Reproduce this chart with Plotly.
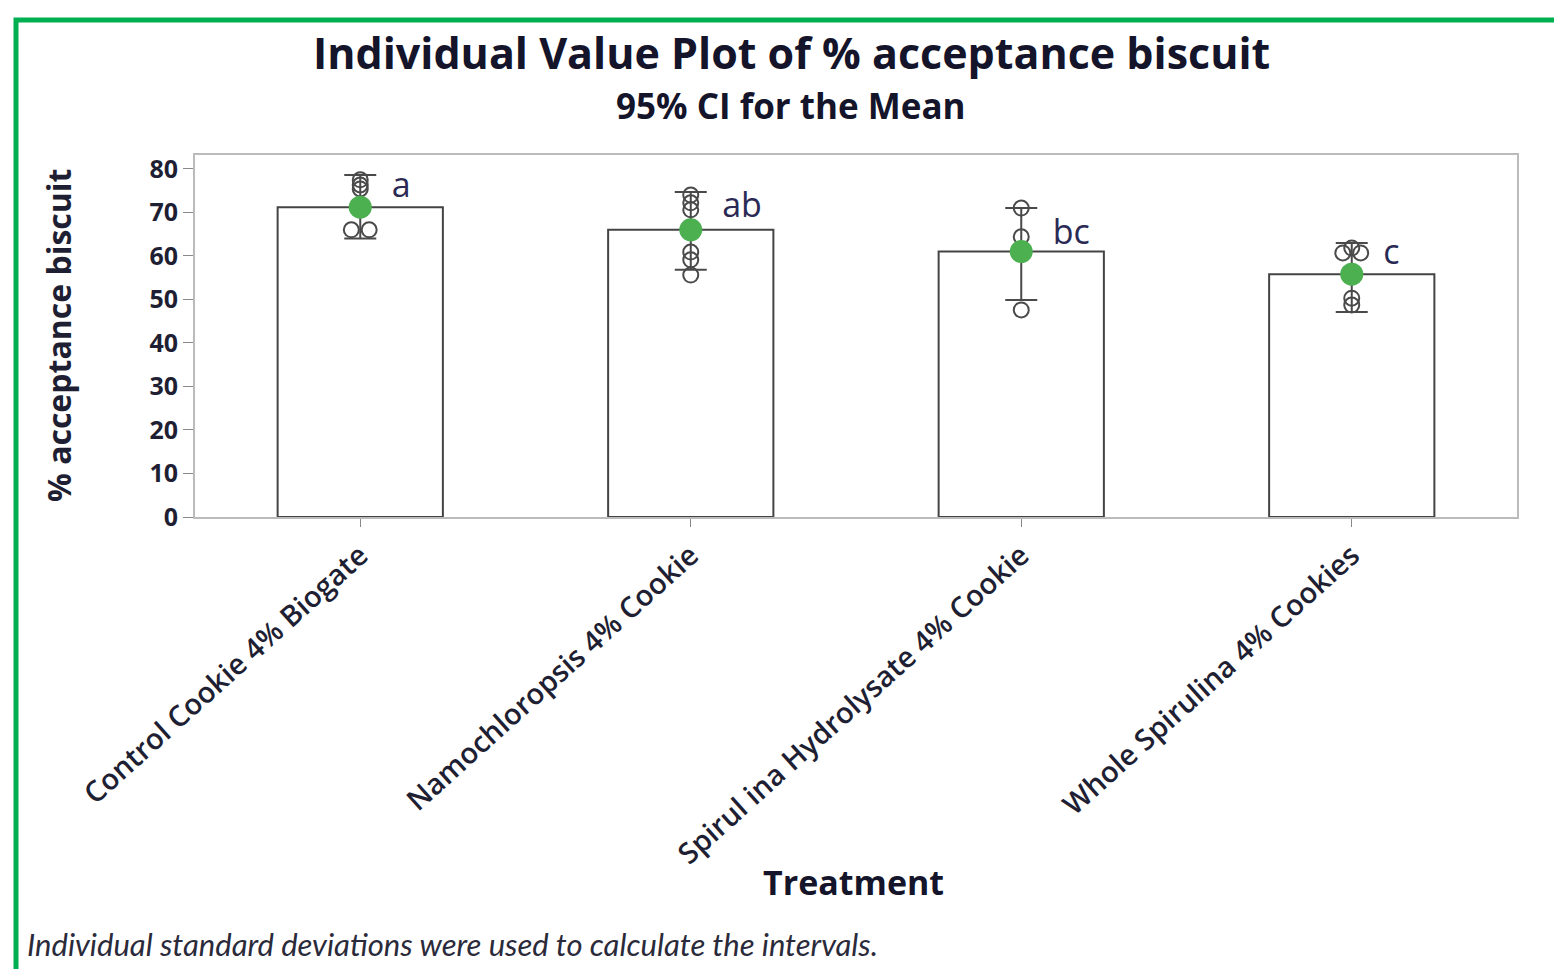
import plotly.graph_objects as go

# ---------------- data ----------------
treatments = ["Control Cookie 4% Biogate", "Nannochloropsis 4% Cookie",
              "Spirulina Hydrolysate 4% Cookie", "Whole Spirulina 4% Cookies"]
tick_labels = ["Control Cookie 4% Biogate", "Namochloropsis 4% Cookie",
               "Spirul ina Hydrolysate 4% Cookie", "Whole Spirulina 4% Cookies"]
means = [71.2, 66.0, 61.0, 55.8]
ci_low = [64.0, 56.8, 49.9, 47.1]
ci_high = [78.6, 74.7, 71.0, 63.0]
group_letters = ["a", "ab", "bc", "c"]
letter_y = [75.6, 70.8, 64.6, 60.0]
values_control = [77.5, 76.3, 75.4, 66.0, 66.0]
values_nanno = [74.0, 72.2, 70.6, 60.9, 59.1, 55.6]
values_hydro = [71.0, 64.4, 47.6]
values_whole = [61.8, 60.7, 60.7, 50.3, 48.7]
individual = [values_control, values_nanno, values_hydro, values_whole]
y_ticks = [0, 10, 20, 30, 40, 50, 60, 70, 80]

# ---------------- layout constants ----------------
OFF = 8  # page body margin
L, R, T, B = 195 - OFF, 45, 155 - OFF, 452
pw, ph = 1322, 362
W, H = L + pw + R, T + ph + B


def px_x(p):
    return (p - OFF - L) / pw


def px_y(p):
    return (T + ph - (p - OFF)) / ph


txt = "#1f1f33"

fig = go.Figure()
xs = list(range(len(treatments)))

# bars
fig.add_trace(go.Bar(x=xs, y=means, width=0.5,
                     marker=dict(color="white", line=dict(color="#444444", width=2)),
                     hoverinfo="skip", showlegend=False))

# CI error bars
fig.add_trace(go.Scatter(
    x=xs, y=means, mode="markers", marker=dict(size=1, color="rgba(0,0,0,0)"),
    error_y=dict(type="data", symmetric=False,
                 array=[h - m for h, m in zip(ci_high, means)],
                 arrayminus=[m - l for m, l in zip(means, ci_low)],
                 color="#4a4a4a", thickness=2, width=16),
    showlegend=False, hoverinfo="skip"))

# individual values (tied values spread side by side)
px_, py_ = [], []
for i, vals in enumerate(individual):
    counts = {}
    for v in vals:
        counts[v] = counts.get(v, 0) + 1
    seen = {}
    for v in vals:
        n = counts[v]
        k = seen.get(v, 0)
        seen[v] = k + 1
        off = (k - (n - 1) / 2) * 0.054
        px_.append(i + off)
        py_.append(v)
fig.add_trace(go.Scatter(x=px_, y=py_, mode="markers",
                         marker=dict(symbol="circle-open", size=15, color="#4a4a4a", line=dict(width=2)),
                         showlegend=False, hoverinfo="skip"))

# mean markers
fig.add_trace(go.Scatter(x=xs, y=means, mode="markers",
                         marker=dict(symbol="circle", size=23, color="#4caf50"),
                         showlegend=False))

# group letters
fig.add_trace(go.Scatter(x=[i + 0.095 for i in xs], y=letter_y,
                         mode="text", text=group_letters,
                         textfont=dict(size=34, color="#2a2a55", family="Open Sans"),
                         textposition="middle right", showlegend=False, hoverinfo="skip"))

fig.update_layout(
    width=W, height=H,
    margin=dict(l=L, r=R, t=T, b=B),
    paper_bgcolor="white", plot_bgcolor="white",
    font=dict(family="Open Sans", color=txt),
    xaxis=dict(range=[-0.5, 3.5], tickmode="array", tickvals=xs, ticktext=tick_labels,
               tickangle=-42, ticks="outside", ticklen=8, tickcolor="#888888",
               showline=True, linecolor="#bbbbbb", linewidth=2, mirror=True,
               showgrid=False, zeroline=False,
               tickfont=dict(size=29, family="Open Sans", color=txt, weight=600)),
    yaxis=dict(range=[0, 83.2], tickmode="array", tickvals=y_ticks,
               ticks="outside", ticklen=10, tickcolor="#888888",
               showline=True, linecolor="#bbbbbb", linewidth=2, mirror=True,
               showgrid=False, zeroline=False,
               tickfont=dict(size=25, family="Open Sans", color=txt, weight="bold")),
)

anns = [
    dict(text="<b>Individual Value Plot of % acceptance biscuit</b>", x=px_x(791), y=px_y(53),
         font=dict(size=43, color="#14142a")),
    dict(text="<b>95% CI for the Mean</b>", x=px_x(791), y=px_y(105), font=dict(size=35, color="#14142a")),
    dict(text="<b>% acceptance biscuit</b>", x=px_x(58), y=px_y(335), textangle=-90,
         font=dict(size=32, color=txt)),
    dict(text="<b>Treatment</b>", x=px_x(853), y=px_y(882), font=dict(size=34, color="#14142a")),
    dict(text="<i>Individual standard deviations were used to calculate the intervals.</i>",
         x=px_x(25), y=px_y(944), xanchor="left", font=dict(size=31, color="#2a2a3a", family="Lato")),
]
for a in anns:
    a.setdefault("xanchor", "center")
    fig.add_annotation(xref="paper", yref="paper", showarrow=False, yanchor="middle", **a)

# green outer frame
fig.add_shape(type="rect", xref="paper", yref="paper",
              x0=px_x(16), x1=px_x(1600), y0=px_y(1000), y1=px_y(20),
              line=dict(color="#00b050", width=5), fillcolor="rgba(0,0,0,0)", layer="above")

fig.write_html("out.html")
